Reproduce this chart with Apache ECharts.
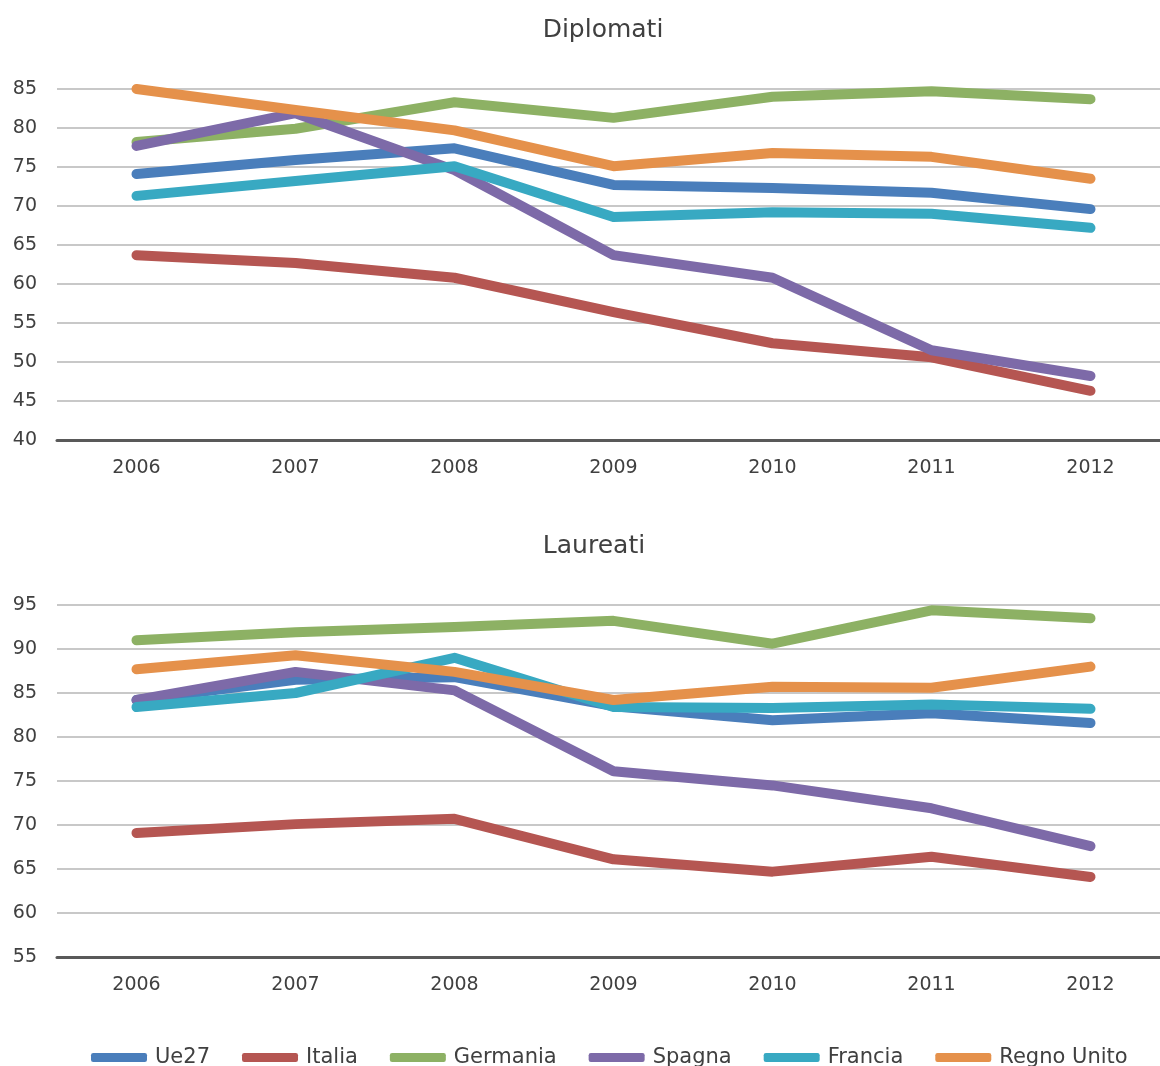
<!DOCTYPE html>
<html>
<head>
<meta charset="utf-8">
<script src="https://cdn.jsdelivr.net/npm/echarts@6/dist/echarts.min.js"></script>
<style>
  html, body { margin: 0; padding: 0; background: #ffffff; }
  #chart { width: 1160px; height: 1066px; }
</style>
</head>
<body>
<div id="chart"></div>
<script>
// Anni
const years = ['2006', '2007', '2008', '2009', '2010', '2011', '2012'];
const seriesNames = ['Ue27', 'Italia', 'Germania', 'Spagna', 'Francia', 'Regno Unito'];

// Diplomati (%)
const dipUe27 = [74.1, 75.9, 77.4, 72.7, 72.3, 71.7, 69.6];
const dipItalia = [63.7, 62.7, 60.8, 56.4, 52.4, 50.6, 46.3];
const dipGermania = [78.2, 79.9, 83.3, 81.3, 84.0, 84.7, 83.7];
const dipSpagna = [77.7, 81.9, 74.6, 63.7, 60.8, 51.5, 48.2];
const dipFrancia = [71.3, 73.2, 75.1, 68.6, 69.2, 69.0, 67.2];
const dipRegnoUnito = [85.0, 82.3, 79.7, 75.1, 76.8, 76.3, 73.5];

// Laureati (%)
const laurUe27 = [84.2, 86.5, 86.8, 83.5, 81.9, 82.7, 81.6];
const laurItalia = [69.1, 70.1, 70.7, 66.1, 64.7, 66.4, 64.1];
const laurGermania = [91.0, 91.9, 92.5, 93.2, 90.6, 94.4, 93.5];
const laurSpagna = [84.2, 87.4, 85.3, 76.1, 74.5, 71.9, 67.6];
const laurFrancia = [83.4, 85.0, 89.0, 83.4, 83.3, 83.7, 83.2];
const laurRegnoUnito = [87.7, 89.3, 87.4, 84.2, 85.7, 85.6, 88.0];

const colors = ['#4a7ebb', '#b55652', '#8db164', '#7d6aa8', '#38a9c2', '#e5914b'];
const FONT = '"DejaVu Sans", sans-serif';
const TEXT = '#404040';

const dipData = [dipUe27, dipItalia, dipGermania, dipSpagna, dipFrancia, dipRegnoUnito];
const laurData = [laurUe27, laurItalia, laurGermania, laurSpagna, laurFrancia, laurRegnoUnito];

function xAxis(gridIndex) {
  return {
    type: 'category', gridIndex, data: years, boundaryGap: true,
    axisLine: { lineStyle: { color: '#595959', width: 3 } },
    axisTick: { show: false },
    axisLabel: { color: TEXT, fontFamily: FONT, fontSize: 19, margin: 19 }
  };
}
function yAxis(gridIndex, min, max) {
  return {
    type: 'value', gridIndex, min, max, interval: 5,
    axisLine: { show: false }, axisTick: { show: false },
    splitLine: { lineStyle: { color: '#c8c8c8', width: 2 } },
    axisLabel: { color: TEXT, fontFamily: FONT, fontSize: 19, margin: 20 }
  };
}
function lines(data, axisIndex) {
  return data.map((vals, i) => ({
    name: seriesNames[i], type: 'line', data: vals,
    xAxisIndex: axisIndex, yAxisIndex: axisIndex,
    symbol: 'none', smooth: false,
    lineStyle: { color: colors[i], width: 10, cap: 'round', join: 'round' },
    itemStyle: { color: colors[i] },
    z: 2
  }));
}

const chart = echarts.init(document.getElementById('chart'), null, { renderer: 'canvas' });
chart.setOption({
  animation: false,
  backgroundColor: '#ffffff',
  title: [
    { text: 'Diplomati', left: 598, top: 13, textAlign: 'center',
      textStyle: { color: TEXT, fontFamily: FONT, fontSize: 25, fontWeight: 'normal' } },
    { text: 'Laureati', left: 589, top: 529, textAlign: 'center',
      textStyle: { color: TEXT, fontFamily: FONT, fontSize: 25, fontWeight: 'normal' } }
  ],
  legend: {
    data: seriesNames,
    left: 86, top: 1042,
    icon: 'roundRect', itemWidth: 56, itemHeight: 9, itemGap: 32,
    textStyle: { color: TEXT, fontFamily: FONT, fontSize: 21, padding: [0, 0, 0, 3] }
  },
  grid: [
    { left: 57, top: 89, width: 1113, height: 351, containLabel: false, outerBoundsMode: 'none' },
    { left: 57, top: 605, width: 1113, height: 352, containLabel: false, outerBoundsMode: 'none' }
  ],
  xAxis: [xAxis(0), xAxis(1)],
  yAxis: [yAxis(0, 40, 85), yAxis(1, 55, 95)],
  series: [...lines(dipData, 0), ...lines(laurData, 1)]
});
</script>
</body>
</html>
